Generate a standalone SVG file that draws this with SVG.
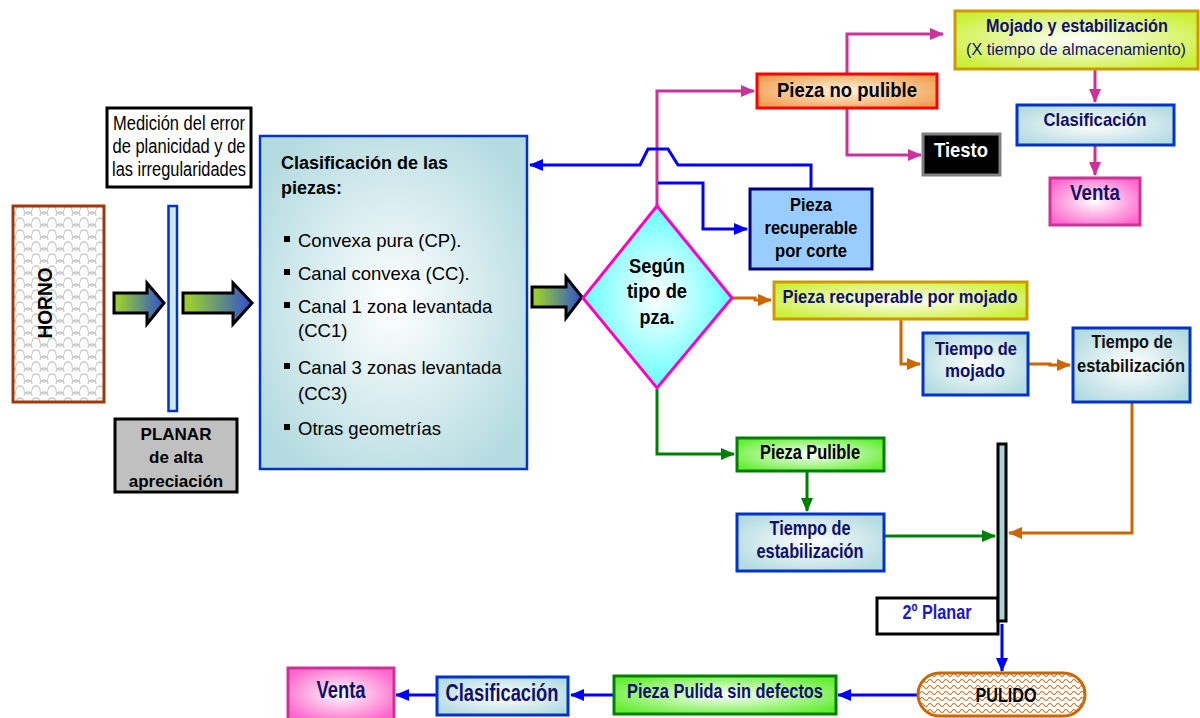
<svg xmlns="http://www.w3.org/2000/svg" width="1200" height="718" viewBox="0 0 1200 718">
<defs>
<style>
.t{font-family:"Liberation Sans Narrow","Liberation Sans",Arial,sans-serif;text-anchor:middle}
.w{font-family:"Liberation Sans",Arial,sans-serif}
.b{font-weight:bold}
.navy{fill:#10106a}
.pk{stroke:#CC3399;stroke-width:3;fill:none}
.bl{stroke:#0000FF;stroke-width:3;fill:none}
.or{stroke:#CC6600;stroke-width:3;fill:none}
.gr{stroke:#008000;stroke-width:3;fill:none}
</style>
<radialGradient id="gCyan" cx="50%" cy="50%" r="60%"><stop offset="0" stop-color="#ffffff"/><stop offset="1" stop-color="#b4dbe0"/></radialGradient>
<radialGradient id="gDia" cx="50%" cy="50%" r="55%"><stop offset="0" stop-color="#ffffff"/><stop offset="1" stop-color="#55ffff"/></radialGradient>
<radialGradient id="gOr" cx="50%" cy="50%" r="60%"><stop offset="0" stop-color="#fff3e0"/><stop offset="1" stop-color="#f0a050"/></radialGradient>
<radialGradient id="gYel" cx="50%" cy="50%" r="60%"><stop offset="0" stop-color="#ffffff"/><stop offset="1" stop-color="#ccf03a"/></radialGradient>
<radialGradient id="gPink" cx="50%" cy="50%" r="60%"><stop offset="0" stop-color="#ffffff"/><stop offset="1" stop-color="#ff66cc"/></radialGradient>
<radialGradient id="gGreen" cx="50%" cy="50%" r="60%"><stop offset="0" stop-color="#ffffff"/><stop offset="1" stop-color="#66ee33"/></radialGradient>
<linearGradient id="gArr" x1="0" y1="0" x2="1" y2="0"><stop offset="0.1" stop-color="#99cc33"/><stop offset="1" stop-color="#2f4fd0"/></linearGradient>
<pattern id="pScale" width="16" height="12" patternUnits="userSpaceOnUse">
<rect width="16" height="12" fill="#ffffff"/>
<path d="M0,6 a4,4 0 0 1 8,0 a4,4 0 0 0 8,0 M-8,12 a4,4 0 0 1 8,0 a4,4 0 0 0 8,0 a4,4 0 0 1 8,0 a4,4 0 0 0 8,0" stroke="#c8c8c8" stroke-width="1.3" fill="none"/>
</pattern>
<pattern id="pWave" width="8" height="6" patternUnits="userSpaceOnUse">
<rect width="8" height="6" fill="#ffffff"/>
<path d="M0,3 q2,-3 4,0 t4,0" stroke="#D07020" stroke-width="1.2" fill="none"/>
</pattern>
<marker id="mPk" viewBox="0 0 14 12" refX="13" refY="6" markerWidth="14" markerHeight="12" markerUnits="userSpaceOnUse" orient="auto"><path d="M0,0 L14,6 L0,12 z" fill="#CC3399"/></marker>
<marker id="mBl" viewBox="0 0 14 12" refX="13" refY="6" markerWidth="14" markerHeight="12" markerUnits="userSpaceOnUse" orient="auto"><path d="M0,0 L14,6 L0,12 z" fill="#0000FF"/></marker>
<marker id="mOr" viewBox="0 0 14 12" refX="13" refY="6" markerWidth="14" markerHeight="12" markerUnits="userSpaceOnUse" orient="auto"><path d="M0,0 L14,6 L0,12 z" fill="#CC6600"/></marker>
<marker id="mGr" viewBox="0 0 14 12" refX="13" refY="6" markerWidth="14" markerHeight="12" markerUnits="userSpaceOnUse" orient="auto"><path d="M0,0 L14,6 L0,12 z" fill="#008000"/></marker>
</defs>
<rect width="1200" height="718" fill="#ffffff"/>

<g id="connectors">
<!-- pink -->
<path class="pk" d="M657,206 V91 H754" marker-end="url(#mPk)"/>
<path class="pk" d="M847,74 V34 H943" marker-end="url(#mPk)"/>
<path class="pk" d="M847,109 V155 H921" marker-end="url(#mPk)"/>
<path class="pk" d="M1095,70 V102" marker-end="url(#mPk)"/>
<path class="pk" d="M1095,146 V175" marker-end="url(#mPk)"/>
<!-- blue -->
<path class="bl" d="M811,188 V165 H678 L668,149 H648 L640,165 H530" marker-end="url(#mBl)"/>
<path class="bl" d="M658,183 H703 V229 H747" marker-end="url(#mBl)"/>
<path class="bl" d="M1002,624 V671" marker-end="url(#mBl)"/>
<path class="bl" d="M917,695 H838" marker-end="url(#mBl)"/>
<path class="bl" d="M613,695 H571" marker-end="url(#mBl)"/>
<path class="bl" d="M436,695 H396" marker-end="url(#mBl)"/>
<!-- orange -->
<path class="or" d="M732,298 H755 V300 H771" marker-end="url(#mOr)"/>
<path class="or" d="M901,320 V364 H920" marker-end="url(#mOr)"/>
<path class="or" d="M1029,364 H1050 V365 H1070" marker-end="url(#mOr)"/>
<path class="or" d="M1132,403 V533 H1009" marker-end="url(#mOr)"/>
<!-- green -->
<path class="gr" d="M657,389 V454 H734" marker-end="url(#mGr)"/>
<path class="gr" d="M807,472 V511" marker-end="url(#mGr)"/>
<path class="gr" d="M884,536 H995" marker-end="url(#mGr)"/>
</g>

<g id="horno">
<rect x="13" y="206" width="91" height="196" fill="url(#pScale)" stroke="#A0380B" stroke-width="3"/>
<text class="t b" transform="translate(52,303) rotate(-90)" font-size="20" textLength="71" lengthAdjust="spacingAndGlyphs">HORNO</text>
</g>

<g id="medicion">
<rect x="107" y="108" width="144" height="79" fill="#ffffff" stroke="#000000" stroke-width="3"/>
<text class="t" x="179" y="130" font-size="20" textLength="132" lengthAdjust="spacingAndGlyphs">Medición del error</text>
<text class="t" x="179" y="153" font-size="20" textLength="133" lengthAdjust="spacingAndGlyphs">de planicidad y de</text>
<text class="t" x="179" y="176" font-size="20" textLength="134" lengthAdjust="spacingAndGlyphs">las irregularidades</text>
</g>

<g id="planar1-bar">
<rect x="168.5" y="206" width="8.5" height="205" fill="#cde8ec" stroke="#0033CC" stroke-width="2.5"/>
</g>

<g id="planar1">
<rect x="115" y="419" width="122" height="73" fill="#c0c0c0" stroke="#000000" stroke-width="3"/>
<text class="t w b" x="176" y="440" font-size="17">PLANAR</text>
<text class="t w b" x="176" y="463" font-size="17">de alta</text>
<text class="t w b" x="176" y="487" font-size="17">apreciación</text>
</g>

<g id="flecha1">
<path d="M114,293 H147 V283 L164,303 L147,324 V313 H114 Z" fill="url(#gArr)" stroke="#000" stroke-width="3"/>
</g>
<g id="flecha2">
<path d="M183,293 H233 V283 L252,303 L233,324 V313 H183 Z" fill="url(#gArr)" stroke="#000" stroke-width="3"/>
</g>
<g id="flecha3">
<path d="M532,287 H566 V277 L582,297 L566,318 V307 H532 Z" fill="url(#gArr)" stroke="#000" stroke-width="3"/>
</g>

<g id="clasificacion-piezas">
<rect x="260" y="136" width="267" height="333" fill="url(#gCyan)" stroke="#0033CC" stroke-width="2.5"/>
<g class="w">
<text class="b" x="281" y="169" font-size="18">Clasificación de las</text>
<text class="b" x="281" y="194" font-size="18">piezas:</text>
<g font-size="18.5">
<rect x="284" y="236" width="6" height="6"/><text x="298" y="247">Convexa pura (CP).</text>
<rect x="284" y="269" width="6" height="6"/><text x="298" y="280">Canal convexa (CC).</text>
<rect x="284" y="302" width="6" height="6"/><text x="298" y="313">Canal 1 zona levantada</text>
<text x="298" y="337">(CC1)</text>
<rect x="284" y="363" width="6" height="6"/><text x="298" y="374">Canal 3 zonas levantada</text>
<text x="298" y="400">(CC3)</text>
<rect x="284" y="424" width="6" height="6"/><text x="298" y="435">Otras geometrías</text>
</g>
</g>
</g>

<g id="segun-tipo">
<polygon points="657,206 732,298 657,388 583,298" fill="url(#gDia)" stroke="#FF00CC" stroke-width="3"/>
<text class="t b" x="657" y="273" font-size="20" textLength="56" lengthAdjust="spacingAndGlyphs">Según</text>
<text class="t b" x="657" y="298" font-size="20" textLength="60" lengthAdjust="spacingAndGlyphs">tipo de</text>
<text class="t b" x="657" y="324" font-size="20" textLength="35" lengthAdjust="spacingAndGlyphs">pza.</text>
</g>

<g id="pieza-no-pulible">
<rect x="757" y="74" width="180" height="34" fill="url(#gOr)" stroke="#FF0000" stroke-width="3"/>
<text class="t b" x="847" y="97" font-size="21" textLength="140" lengthAdjust="spacingAndGlyphs">Pieza no pulible</text>
</g>

<g id="mojado-estab">
<rect x="955" y="11" width="243" height="58" fill="url(#gYel)" stroke="#CC9900" stroke-width="3"/>
<text class="t b navy" x="1077" y="32" font-size="17.5" textLength="182" lengthAdjust="spacingAndGlyphs">Mojado y estabilización</text>
<text class="t navy" x="1076" y="55" font-size="16" textLength="220" lengthAdjust="spacingAndGlyphs">(X tiempo de almacenamiento)</text>
</g>

<g id="clasificacion-top">
<rect x="1017" y="105" width="157" height="40" fill="url(#gCyan)" stroke="#0033CC" stroke-width="3"/>
<text class="t b navy" x="1095" y="126" font-size="17.7" textLength="103" lengthAdjust="spacingAndGlyphs">Clasificación</text>
</g>

<g id="venta-top">
<rect x="1050" y="178" width="90" height="47" fill="url(#gPink)" stroke="#CC3399" stroke-width="3"/>
<text class="t b navy" x="1095" y="200" font-size="22" textLength="50" lengthAdjust="spacingAndGlyphs">Venta</text>
</g>

<g id="tiesto">
<rect x="923" y="134" width="77" height="41" fill="#000000" stroke="#808080" stroke-width="3"/>
<text class="t b" x="961" y="157" font-size="21" fill="#ffffff" textLength="54" lengthAdjust="spacingAndGlyphs">Tiesto</text>
</g>

<g id="pieza-corte">
<rect x="750" y="189" width="122" height="80" fill="#99CCFF" stroke="#000080" stroke-width="3"/>
<text class="t b" x="811" y="211" font-size="18.5" textLength="42" lengthAdjust="spacingAndGlyphs">Pieza</text>
<text class="t b" x="811" y="234" font-size="18.5" textLength="93" lengthAdjust="spacingAndGlyphs">recuperable</text>
<text class="t b" x="811" y="257" font-size="18.5" textLength="72" lengthAdjust="spacingAndGlyphs">por corte</text>
</g>

<g id="pieza-mojado">
<rect x="774" y="282" width="253" height="37" fill="url(#gYel)" stroke="#CC9900" stroke-width="3"/>
<text class="t b navy" x="900" y="303" font-size="18.6" textLength="235" lengthAdjust="spacingAndGlyphs">Pieza recuperable por mojado</text>
</g>

<g id="tiempo-mojado">
<rect x="923" y="333" width="105" height="62" fill="url(#gCyan)" stroke="#0033CC" stroke-width="3"/>
<text class="t b navy" x="976" y="355" font-size="18.6" textLength="82" lengthAdjust="spacingAndGlyphs">Tiempo de</text>
<text class="t b navy" x="975" y="377" font-size="18.6" textLength="60" lengthAdjust="spacingAndGlyphs">mojado</text>
</g>

<g id="tiempo-estab-1">
<rect x="1073" y="328" width="117" height="74" fill="url(#gCyan)" stroke="#0033CC" stroke-width="3"/>
<text class="t b" x="1132" y="348" font-size="18.6" fill="#111" textLength="81" lengthAdjust="spacingAndGlyphs">Tiempo de</text>
<text class="t b" x="1131" y="372" font-size="18.6" fill="#111" textLength="108" lengthAdjust="spacingAndGlyphs">estabilización</text>
</g>

<g id="pieza-pulible">
<rect x="737" y="438" width="147" height="33" fill="url(#gGreen)" stroke="#008000" stroke-width="3"/>
<text class="t b" x="810" y="459" font-size="20" textLength="100" lengthAdjust="spacingAndGlyphs">Pieza Pulible</text>
</g>

<g id="tiempo-estab-2">
<rect x="737" y="514" width="147" height="57" fill="url(#gCyan)" stroke="#0033CC" stroke-width="3"/>
<text class="t b navy" x="810" y="535" font-size="20.5" textLength="81" lengthAdjust="spacingAndGlyphs">Tiempo de</text>
<text class="t b navy" x="810" y="558" font-size="20.5" textLength="107" lengthAdjust="spacingAndGlyphs">estabilización</text>
</g>

<g id="planar2">
<rect x="877" y="598" width="121" height="36" fill="#ffffff" stroke="#000000" stroke-width="3"/>
<text class="t b" x="937" y="619" font-size="20" fill="#1a1acc" textLength="69" lengthAdjust="spacingAndGlyphs">2º Planar</text>
</g>

<g id="planar2-bar">
<rect x="998" y="444" width="8" height="177" fill="#a8d4d8" stroke="#000000" stroke-width="3"/>
</g>

<g id="pulido">
<rect x="918" y="673" width="167" height="43" rx="21.5" ry="21.5" fill="url(#pWave)" stroke="#CC6600" stroke-width="3"/>
<text class="t b" x="1006" y="702" font-size="21" textLength="61" lengthAdjust="spacingAndGlyphs">PULIDO</text>
</g>

<g id="pieza-pulida">
<rect x="614" y="676" width="222" height="38" fill="url(#gGreen)" stroke="#008000" stroke-width="3"/>
<text class="t b navy" x="725" y="698" font-size="19.5" textLength="196" lengthAdjust="spacingAndGlyphs">Pieza Pulida sin defectos</text>
</g>

<g id="clasificacion-bottom">
<rect x="437" y="677" width="131" height="38" fill="url(#gCyan)" stroke="#0033CC" stroke-width="3"/>
<text class="t b navy" x="502" y="701" font-size="23" textLength="113" lengthAdjust="spacingAndGlyphs">Clasificación</text>
</g>

<g id="venta-bottom">
<rect x="288" y="668" width="106" height="52" fill="url(#gPink)" stroke="#CC3399" stroke-width="3"/>
<text class="t b navy" x="341" y="698" font-size="23" textLength="49" lengthAdjust="spacingAndGlyphs">Venta</text>
</g>
</svg>
